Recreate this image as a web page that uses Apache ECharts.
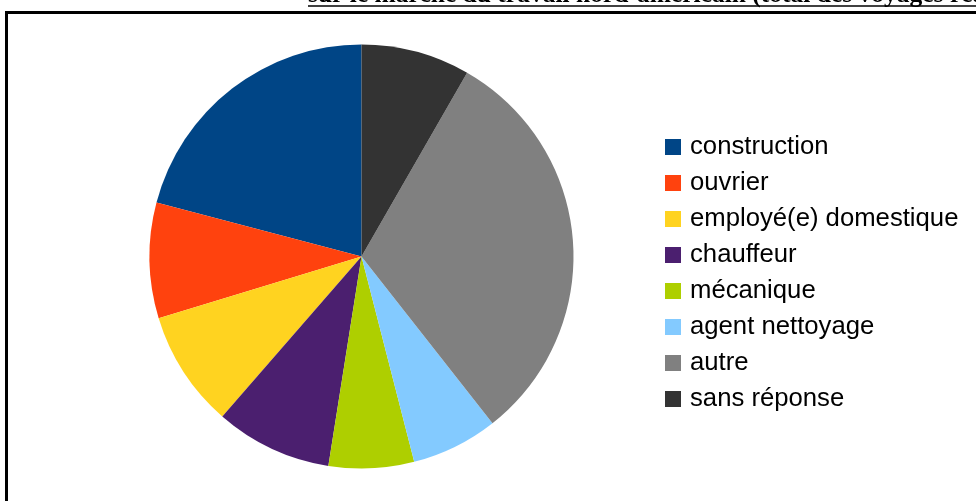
<!DOCTYPE html>
<html>
<head>
<meta charset="utf-8">
<script src="https://cdn.jsdelivr.net/npm/echarts@6/dist/echarts.min.js"></script>
<style>
html,body{margin:0;padding:0;background:#fff;}
#chart{width:976px;height:501px;}
</style>
</head>
<body>
<div id="chart"></div>
<script>
const categories = ['construction','ouvrier','employé(e) domestique','chauffeur','mécanique','agent nettoyage','autre','sans réponse'];
const values = [20.9, 8.8, 8.9, 8.9, 6.5, 6.6, 31.1, 8.3];
const colors = ['#004586','#ff420e','#ffd320','#4b1f6f','#aecf00','#83caff','#808080','#333333'];
const titleText = 'sur le marché du travail nord-américain (total des voyages réalisés)';

const chart = echarts.init(document.getElementById('chart'), null, {renderer:'canvas'});
chart.setOption({
  animation:false,
  backgroundColor:'#fff',
  color: colors,
  legend:{
    orient:'vertical',
    left:660, top:129,
    itemWidth:16, itemHeight:16, itemGap:10,
    icon:'rect',
    textStyle:{fontFamily:'Liberation Sans', fontSize:25.7, color:'#000', padding:[0,0,0,4]},
    data: categories
  },
  graphic:[
    {type:'rect', shape:{x:6.5, y:12.5, width:1200, height:800}, style:{fill:null, stroke:'#000', lineWidth:3}, silent:true},
    {type:'text', x:308, y:8.5, style:{text:titleText, font:'bold 25.5px "Liberation Serif"', fill:'#000', verticalAlign:'bottom'}, silent:true},
    {type:'line', shape:{x1:308, y1:6, x2:1200, y2:6}, style:{stroke:'#000', lineWidth:1.5}, silent:true}
  ],
  series:[{
    type:'pie',
    center:[361.5,256.5],
    radius:212,
    startAngle:90,
    clockwise:false,
    label:{show:false},
    labelLine:{show:false},
    itemStyle:{borderWidth:0},
    emphasis:{disabled:true},
    data: categories.map((c,i)=>({name:c, value:values[i]}))
  }]
});
</script>
</body>
</html>
